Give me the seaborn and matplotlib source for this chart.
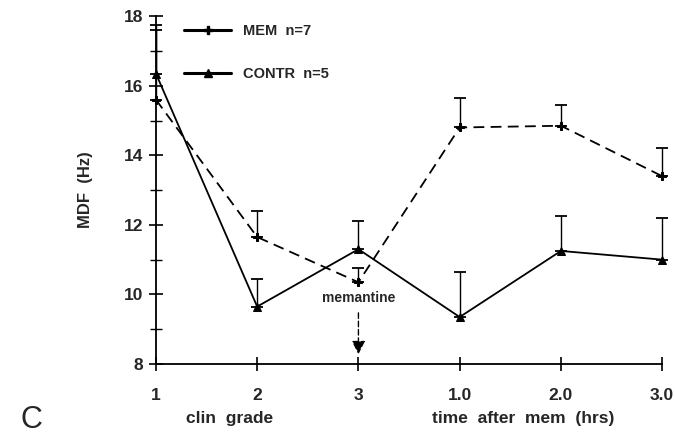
import numpy as np
import pandas as pd
import matplotlib
matplotlib.use("Agg")
import matplotlib.pyplot as plt
import seaborn as sns
from matplotlib.lines import Line2D

tick_labels = ["1", "2", "3", "1.0", "2.0", "3.0"]
mem_vals = [15.6, 11.65, 10.35, 14.8, 14.85, 13.4]
mem_err = [2.0, 0.75, 0.4, 0.85, 0.6, 0.8]
contr_vals = [16.35, 9.65, 11.3, 9.35, 11.25, 11.0]
contr_err = [1.4, 0.8, 0.8, 1.3, 1.0, 1.2]
series_names = ["MEM  n=7", "CONTR  n=5"]

sns.set_theme(style="white")
plt.rcParams["font.family"] = ["Liberation Sans", "DejaVu Sans"]
plt.rcParams["font.weight"] = "bold"

fig = plt.figure(figsize=(6.75, 4.38), dpi=100)
ax = fig.add_axes([0.231, 0.169, 0.75, 0.794])

pos = np.arange(len(tick_labels))
df = pd.DataFrame({
    "pos": np.concatenate([pos, pos]),
    "val": mem_vals + contr_vals,
    "series": [series_names[0]] * 6 + [series_names[1]] * 6,
})

sns.lineplot(data=df, x="pos", y="val", hue="series", style="series",
             palette=["black", "black"], markers=["P", "^"],
             dashes=[(6, 3.5), ""], linewidth=1.3, markersize=6,
             markeredgecolor="black", ax=ax, legend=False)
for line in ax.get_lines():
    line.set_clip_on(False)

for vals, err in [(mem_vals, mem_err), (contr_vals, contr_err)]:
    ax.errorbar(pos, vals, yerr=[np.zeros(len(err)), err], fmt="none",
                ecolor="black", elinewidth=1.0, capsize=4, capthick=1.3,
                clip_on=False)

ax.set_xlim(0, 5)
ax.set_ylim(8, 18)
ax.set_xticks(pos)
ax.set_xticklabels(tick_labels, fontsize=12.5, fontweight="bold")
ax.set_yticks([8, 10, 12, 14, 16, 18])
ax.set_yticklabels(["8", "10", "12", "14", "16", "18"], fontsize=12.5, fontweight="bold")
ax.set_yticks([9, 11, 13, 15, 17], minor=True)
ax.tick_params(axis="both", which="major", direction="inout", length=10, width=1.2,
               color="black", pad=4, left=True, bottom=True)
ax.tick_params(axis="y", which="minor", direction="inout", length=8, width=1.0,
               color="black", left=True)
ax.tick_params(axis="x", pad=12)
for s in ["top", "right"]:
    ax.spines[s].set_visible(False)
for s in ["left", "bottom"]:
    ax.spines[s].set_color("black")
    ax.spines[s].set_linewidth(1.3)

ax.set_ylabel("MDF  (Hz)", fontsize=12, fontweight="bold", labelpad=22)
ax.set_xlabel("")

handles = [
    Line2D([], [], color="black", lw=2.2, marker="P", markersize=5.5),
    Line2D([], [], color="black", lw=2.2, marker="^", markersize=6),
]
ax.legend(handles, series_names, loc="upper left", bbox_to_anchor=(0.03, 1.015),
          frameon=False, handlelength=3.2, labelspacing=2.0,
          prop={"weight": "bold", "size": 10.5})

ax.text(2, 9.9, "memantine", ha="center", va="center", fontsize=10, fontweight="bold")
ax.annotate("", xy=(2, 8.2), xytext=(2, 9.55),
            arrowprops=dict(arrowstyle="-|>", color="black", lw=1.0,
                            linestyle=(0, (4, 2)), mutation_scale=20))

fig.text(0.34, 0.045, "clin  grade", fontsize=12.5, fontweight="bold", ha="center", va="center")
fig.text(0.775, 0.045, "time  after  mem  (hrs)", fontsize=12.5, fontweight="bold", ha="center", va="center")
fig.text(0.03, 0.04, "C", fontsize=22, fontweight="normal", ha="left", va="center")

fig.savefig("out.png", dpi=100)
